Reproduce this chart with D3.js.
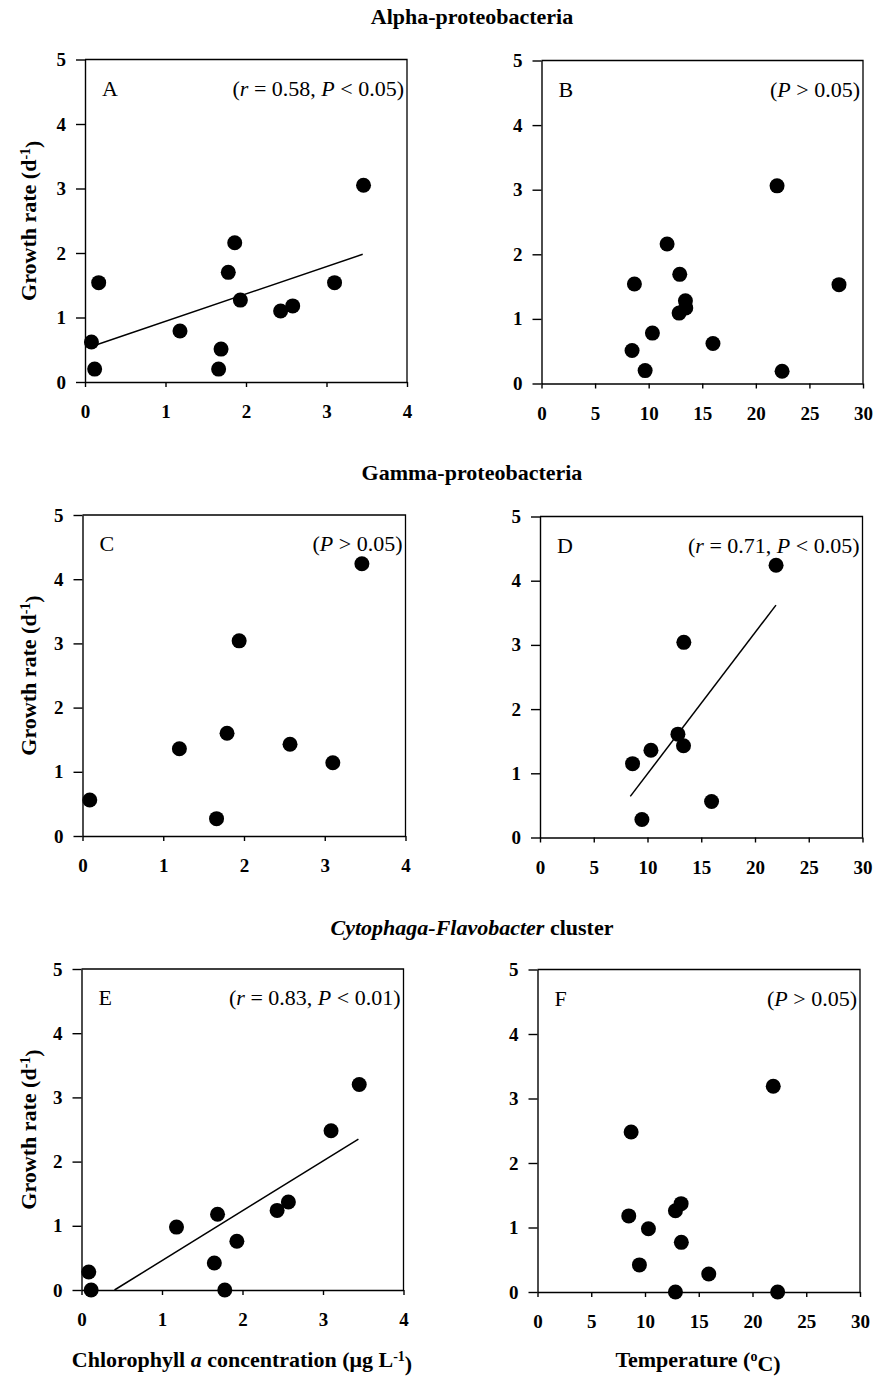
<!DOCTYPE html>
<html>
<head>
<meta charset="utf-8">
<script src="https://cdn.jsdelivr.net/npm/d3@7"></script>
<style>
  body { margin: 0; background: #fff; }
  svg { display: block; font-family: "Liberation Serif", "Times New Roman", serif; }
</style>
</head>
<body>
<svg width="874" height="1376"></svg>
<script>
// values
const groupTitles = ["Alpha-proteobacteria", "Gamma-proteobacteria", "Cytophaga-Flavobacter"];
const panelLetters = ["A", "B", "C", "D", "E", "F"];
const xTicksChl = [0, 1, 2, 3, 4];
const xTicksTemp = [0, 5, 10, 15, 20, 25, 30];
const yTicks = [0, 1, 2, 3, 4, 5];

const chlA = [0.08, 0.12, 0.17, 1.18, 1.66, 1.69, 1.78, 1.86, 1.93, 2.43, 2.58, 3.10, 3.46];
const rateA = [0.62, 0.20, 1.54, 0.79, 0.20, 0.51, 1.70, 2.16, 1.27, 1.10, 1.18, 1.54, 3.05];
const lineA = [[0.08, 0.55], [3.45, 1.98]];

const tempB = [8.67, 8.45, 9.67, 10.35, 11.72, 12.9, 12.84, 13.43, 13.46, 16.0, 21.98, 22.45, 27.76];
const rateB = [1.54, 0.51, 0.20, 0.78, 2.16, 1.69, 1.09, 1.28, 1.17, 0.62, 3.06, 0.19, 1.53];

const chlC = [0.09, 1.20, 1.66, 1.79, 1.94, 2.57, 3.10, 3.46];
const rateC = [0.56, 1.36, 0.27, 1.60, 3.04, 1.43, 1.14, 4.24];

const tempD = [8.61, 9.48, 10.32, 12.83, 13.35, 13.38, 15.96, 21.96];
const rateD = [1.15, 0.28, 1.36, 1.61, 1.43, 3.04, 0.56, 4.24];
const lineD = [[8.4, 0.64], [21.95, 3.62]];

const chlE = [0.09, 0.12, 1.18, 1.65, 1.69, 1.78, 1.93, 2.43, 2.57, 3.10, 3.45];
const rateE = [0.28, 0.00, 0.98, 0.42, 1.18, 0.00, 0.76, 1.24, 1.37, 2.48, 3.20];
const lineE = [[0.41, 0.0], [3.44, 2.35]];

const tempF = [8.49, 8.71, 9.48, 10.32, 12.83, 12.83, 13.36, 13.38, 15.93, 21.93, 22.34];
const rateF = [1.18, 2.48, 0.42, 0.98, 1.26, 0.00, 1.37, 0.77, 0.28, 3.19, 0.00];

// stats: [r value or null, P relation, P value]
const statsA = ["0.58", "<", "0.05"];
const statsB = [null, ">", "0.05"];
const statsC = [null, ">", "0.05"];
const statsD = ["0.71", "<", "0.05"];
const statsE = ["0.83", "<", "0.01"];
const statsF = [null, ">", "0.05"];

const svg = d3.select("svg");
svg.append("rect").attr("width", 874).attr("height", 1376).attr("fill", "#fff");

const panels = [
  { l: 85, r: 407, t: 59.5, b: 382, xs: chlA, ys: rateA, line: lineA, stats: statsA, xmax: 4, ticks: xTicksChl, left: true },
  { l: 541.5, r: 863, t: 60.5, b: 383.5, xs: tempB, ys: rateB, line: null, stats: statsB, xmax: 30, ticks: xTicksTemp },
  { l: 82.5, r: 405.5, t: 515, b: 836, xs: chlC, ys: rateC, line: null, stats: statsC, xmax: 4, ticks: xTicksChl, left: true },
  { l: 540, r: 862.5, t: 516.5, b: 837.5, xs: tempD, ys: rateD, line: lineD, stats: statsD, xmax: 30, ticks: xTicksTemp },
  { l: 81.5, r: 403.5, t: 969, b: 1290, xs: chlE, ys: rateE, line: lineE, stats: statsE, xmax: 4, ticks: xTicksChl, left: true },
  { l: 537.5, r: 860, t: 969.5, b: 1292, xs: tempF, ys: rateF, line: null, stats: statsF, xmax: 30, ticks: xTicksTemp }
];

panels.forEach((p, i) => {
  const x = d3.scaleLinear().domain([0, p.xmax]).range([p.l, p.r]);
  const y = d3.scaleLinear().domain([0, 5]).range([p.b, p.t]);
  const g = svg.append("g");

  // frame top / right
  g.append("path")
    .attr("d", `M${p.l},${p.t}H${p.r}V${p.b}`)
    .attr("fill", "none").attr("stroke", "#000").attr("stroke-width", 1.3);

  const xAxis = g.append("g")
    .attr("transform", `translate(0,${p.b})`)
    .call(d3.axisBottom(x).tickValues(p.ticks).tickFormat(d3.format("d"))
      .tickSize(5).tickSizeOuter(0).tickPadding(18));
  const yAxis = g.append("g")
    .attr("transform", `translate(${p.l},0)`)
    .call(d3.axisLeft(y).tickValues(yTicks).tickFormat(d3.format("d"))
      .tickSize(9).tickSizeOuter(0).tickPadding(10));

  [xAxis, yAxis].forEach(a => {
    a.attr("font-family", null).attr("font-size", null);
    a.selectAll("path, line").attr("stroke", "#000").attr("stroke-width", 1.4);
    a.selectAll("text")
      .attr("fill", "#000")
      .attr("font-size", 19)
      .attr("font-weight", "bold");
  });

  if (p.line) {
    g.append("path")
      .attr("d", d3.line().x(d => x(d[0])).y(d => y(d[1]))(p.line))
      .attr("stroke", "#000").attr("stroke-width", 1.5).attr("fill", "none");
  }

  g.selectAll("circle")
    .data(p.xs.map((v, k) => [v, p.ys[k]]))
    .join("circle")
    .attr("cx", d => x(d[0]))
    .attr("cy", d => y(d[1]))
    .attr("r", 7.5)
    .attr("fill", "#000");

  g.append("text")
    .attr("x", p.l + 17).attr("y", p.t + 36)
    .style("font-size", "22px")
    .text(panelLetters[i]);

  const st = g.append("text")
    .attr("x", p.r - 3).attr("y", p.t + 36)
    .attr("text-anchor", "end")
    .style("font-size", "22px");
  st.append("tspan").text("(");
  if (p.stats[0]) {
    st.append("tspan").style("font-style", "italic").text("r");
    st.append("tspan").text(` = ${p.stats[0]}, `);
  }
  st.append("tspan").style("font-style", "italic").text("P");
  st.append("tspan").text(` ${p.stats[1]} ${p.stats[2]})`);

  if (p.left) {
    const yl = g.append("text")
      .attr("transform", `translate(36,${(p.t + p.b) / 2}) rotate(-90)`)
      .attr("text-anchor", "middle")
      .style("font-size", "22px").style("font-weight", "bold");
    yl.append("tspan").text("Growth rate (d");
    yl.append("tspan").attr("dy", "-0.45em").style("font-size", "14px").text("-1");
    yl.append("tspan").attr("dy", "0.45em").text(")");
  }
});

// group titles
const titleY = [24, 480, 935];
titleY.forEach((ty, i) => {
  const t = svg.append("text")
    .attr("x", 472).attr("y", ty)
    .attr("text-anchor", "middle")
    .style("font-size", "22px").style("font-weight", "bold");
  if (i === 2) {
    t.append("tspan").style("font-style", "italic").text(groupTitles[i]);
    t.append("tspan").text(" cluster");
  } else {
    t.text(groupTitles[i]);
  }
});

// bottom axis titles
const xl1 = svg.append("text")
  .attr("x", 242).attr("y", 1367)
  .attr("text-anchor", "middle")
  .style("font-size", "22px").style("font-weight", "bold");
xl1.append("tspan").text("Chlorophyll ");
xl1.append("tspan").style("font-style", "italic").text("a");
xl1.append("tspan").text(" concentration (\u03bcg L");
xl1.append("tspan").attr("dy", "-0.45em").style("font-size", "14px").text("-1");
xl1.append("tspan").attr("dy", "0.45em").text(")");

const xl2 = svg.append("text")
  .attr("x", 698).attr("y", 1367)
  .attr("text-anchor", "middle")
  .style("font-size", "22px").style("font-weight", "bold");
xl2.append("tspan").text("Temperature (");
xl2.append("tspan").attr("dy", "-0.45em").style("font-size", "14px").text("o");
xl2.append("tspan").attr("dy", "0.45em").text("C)");
</script>
</body>
</html>
